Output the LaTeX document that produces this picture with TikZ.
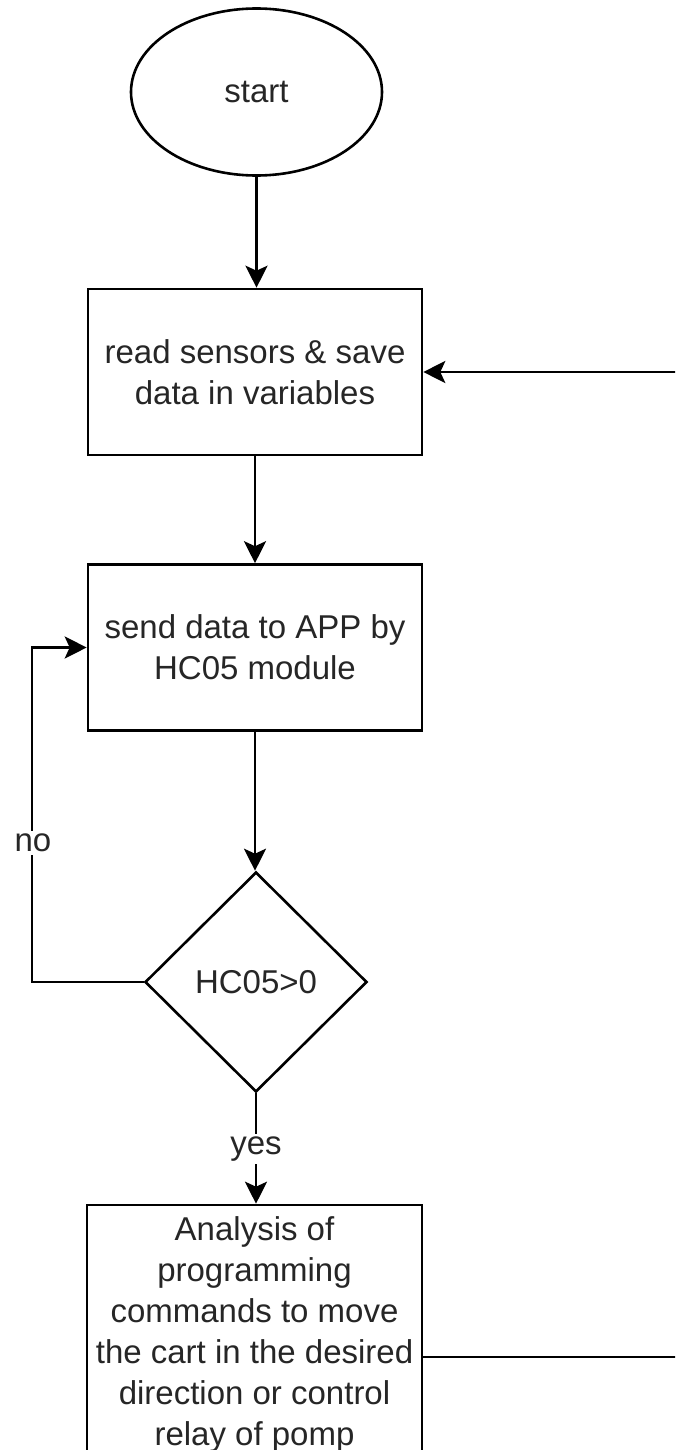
\documentclass[tikz,border=0pt]{standalone}
\usepackage{fontspec}
\setmainfont{Liberation Sans}
\usetikzlibrary{shapes.geometric,arrows.meta}
\definecolor{txtc}{HTML}{262626}
\tikzset{
  every node/.style={font=\fontsize{16.5pt}{20.5pt}\selectfont, text=txtc},
  shp/.style={draw=black, line width=1.3pt, fill=white, inner sep=0pt, align=center},
  boxn/.style={shp, rectangle, minimum width=167pt, minimum height=83pt},
  lbl/.style={fill=white, inner sep=1.5pt},
  conn/.style={draw=black, line width=1.3pt},
  arr/.style={conn, -{Stealth[length=11pt, width=11pt, inset=2.5pt]}}
}
\begin{document}
\begin{tikzpicture}[x=0.5pt, y=-0.5pt]
\useasboundingbox (0,0) rectangle (675,1450);
\clip (0,0) rectangle (675,1450);
\fill[white] (0,0) rectangle (675,1450);

\node[shp, ellipse, minimum width=125.5pt, minimum height=83.5pt] (start) at (256.5,92) {start};
\node[boxn] (b1) at (255,372) {read sensors \& save\\data in variables};
\node[boxn] (b2) at (255,647.5) {send data to APP by\\HC05 module};
\node[shp, diamond, minimum width=111pt, minimum height=110pt] (d) at (256,982) {HC05>0};
\node[boxn, minimum width=167.5pt, minimum height=152pt] (b3) at (254.5,1357) {};
\node[align=center, inner sep=0pt] (b3t) at (254.5,1334) {Analysis of\\programming\\commands to move\\the cart in the desired\\direction or control\\relay of pomp};

\coordinate (nl) at (32,982);
\coordinate (rr) at (690,1357);

\draw[arr] (start.south) -- (start.south |- b1.north);
\draw[arr] (b1.south) -- (b2.north);
\draw[arr] (b2.south) -- (b2.south |- d.north);
\draw[arr] (d.west) -- (nl) |- (b2.west);
\node[lbl] (no) at (33,843) {no};
\draw[arr] (d.south) -- (d.south |- b3.north);
\node[lbl] (yes) at (256,1149) {yes};
\draw[arr] (b3.east) -- (rr) |- (b1.east);
\end{tikzpicture}
\end{document}
